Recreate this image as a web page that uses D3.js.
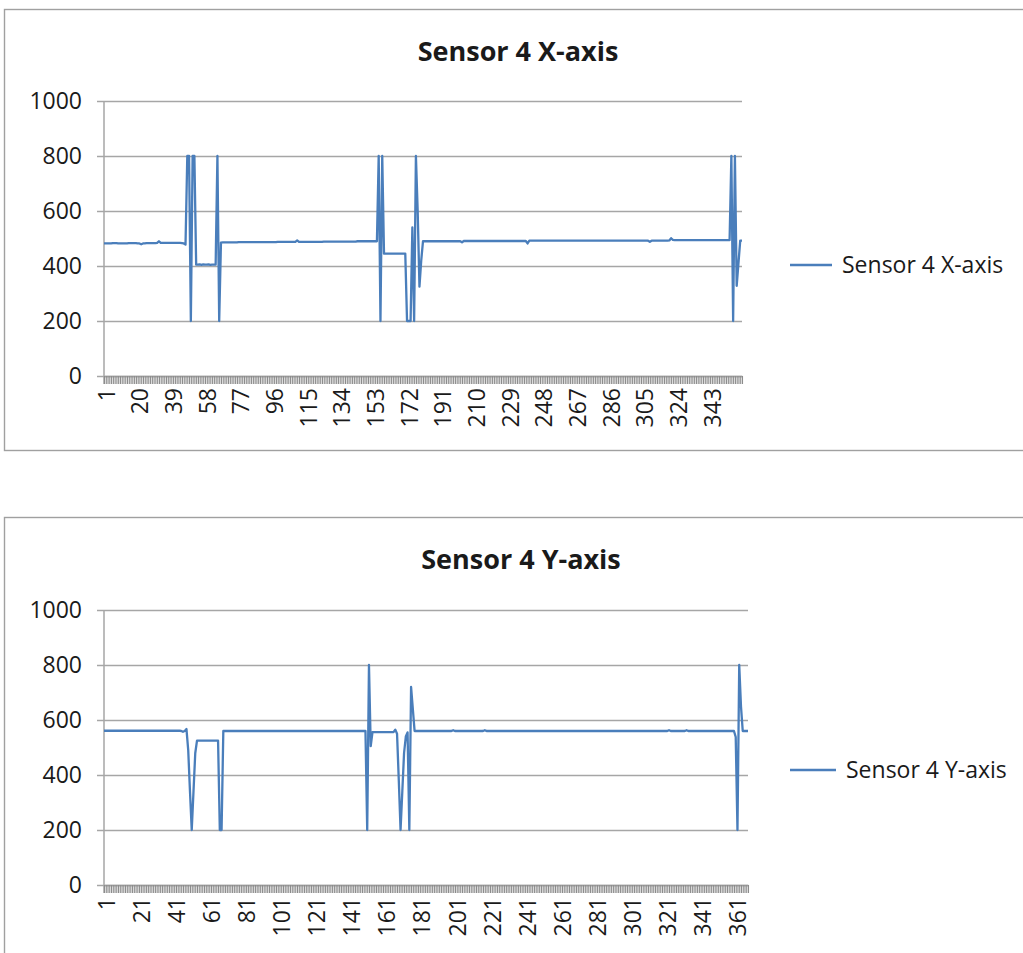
<!DOCTYPE html>
<html>
<head>
<meta charset="utf-8">
<script src="https://cdn.jsdelivr.net/npm/d3@7"></script>
<style>
  body { margin: 0; background: #fff; }
  svg { display: block; }
  text { font-family: "Open Sans", sans-serif; fill: #1a1a1a; }
</style>
</head>
<body>
<svg id="chart" width="1023" height="953"></svg>
<script>
// Sensor 4, X-axis readings (one value per sample)
const sensorXValues = [
  482,482,482,482,482,483,483,483,482,482,482,482,482,482,483,483,483,483,483,482,
  482,479,482,482,483,483,483,483,483,483,484,490,484,484,484,484,484,484,484,484,
  484,484,484,484,483,482,478,800,800,200,800,800,405,405,406,404,406,405,405,406,
  404,405,405,405,800,200,485,486,486,486,486,486,486,486,486,486,487,487,487,487,
  487,487,487,487,487,487,487,487,487,487,487,487,487,487,487,487,487,487,488,488,
  488,488,488,488,488,488,488,488,488,493,488,488,488,488,488,488,488,488,488,488,
  488,488,488,488,489,489,489,489,489,489,489,489,489,489,489,489,489,489,489,489,
  489,489,489,490,490,490,490,490,490,490,490,490,490,490,490,800,200,800,445,445,
  445,445,445,445,445,445,445,445,445,445,445,200,200,200,540,200,800,600,325,420,
  490,490,490,490,490,490,490,490,490,490,490,490,490,490,490,490,490,490,490,490,
  490,490,486,491,491,491,491,491,491,491,491,491,491,491,491,491,491,491,491,491,
  491,491,491,491,491,491,491,491,491,491,491,491,491,491,491,491,491,491,491,482,
  492,492,492,492,492,492,492,492,492,492,492,492,492,492,492,492,492,492,492,492,
  492,492,492,492,492,492,492,492,492,492,492,492,492,492,492,492,492,492,492,492,
  492,492,492,492,492,492,492,492,492,492,492,492,492,492,492,492,492,492,492,492,
  492,492,492,492,492,492,492,492,488,492,492,492,492,492,492,492,492,492,492,493,
  501,495,494,494,494,494,494,494,494,494,494,494,494,494,494,494,494,494,494,494,
  494,494,494,494,494,494,494,494,494,494,494,494,494,494,800,200,800,328,410,492,
  492
];

// Sensor 4, Y-axis readings (one value per sample)
const sensorYValues = [
  561,561,561,561,561,561,561,561,561,561,561,561,561,561,561,561,561,561,561,561,
  561,561,561,561,561,561,561,561,561,561,561,561,561,561,561,561,561,561,561,561,
  561,561,561,561,560,557,560,567,490,340,200,340,479,525,525,525,525,525,525,525,
  525,525,525,525,525,525,200,200,560,560,560,560,560,560,560,560,560,560,560,560,
  560,560,560,560,560,560,560,560,560,560,560,560,560,560,560,560,560,560,560,560,
  560,560,560,560,560,560,560,560,560,560,560,560,560,560,560,560,560,560,560,560,
  560,560,560,560,560,560,560,560,560,560,560,560,560,560,560,560,560,560,560,560,
  560,560,560,560,560,560,560,560,560,560,200,800,505,556,556,556,556,556,556,556,
  556,556,556,556,556,556,565,550,380,200,340,480,540,555,200,720,640,560,560,560,
  560,560,560,560,560,560,560,560,560,560,560,560,560,560,560,560,560,560,560,563,
  560,560,560,560,560,560,560,560,560,560,560,560,560,560,560,560,560,563,560,560,
  560,560,560,560,560,560,560,560,560,560,560,560,560,560,560,560,560,560,560,560,
  560,560,560,560,560,560,560,560,560,560,560,560,560,560,560,560,560,560,560,560,
  560,560,560,560,560,560,560,560,560,560,560,560,560,560,560,560,560,560,560,560,
  560,560,560,560,560,560,560,560,560,560,560,560,560,560,560,560,560,560,560,560,
  560,560,560,560,560,560,560,560,560,560,560,560,560,560,560,560,560,560,560,560,
  560,560,563,560,560,560,560,560,560,560,560,560,563,560,560,560,560,560,560,560,
  560,560,560,560,560,560,560,560,560,560,560,560,560,560,560,560,560,560,560,560,
  538,200,800,650,560,560,560,560
];

// Category labels shown under each horizontal axis
const xLabelsTop = ["1","20","39","58","77","96","115","134","153","172","191",
                    "210","229","248","267","286","305","324","343"];
const xLabelsBottom = ["1","21","41","61","81","101","121","141","161","181","201",
                       "221","241","261","281","301","321","341","361"];

// Value axis ticks shared by both charts
const yTicks = [0, 200, 400, 600, 800, 1000];

const seriesNames = ["Sensor 4 X-axis", "Sensor 4 Y-axis"];

const LINE_COLOR = "#4a7ebb";
const GRID_COLOR = "#a6a6a6";
const FRAME_COLOR = "#a0a0a0";
const LABEL_SIZE = "23px";

const svg = d3.select("#chart");

function drawPanel(cfg) {
  const g = svg.append("g");
  const samples = cfg.values.map((v, i) => i + 1);

  // Chart frame (runs off the page on the right/bottom)
  g.append("rect")
    .attr("x", cfg.frame.x).attr("y", cfg.frame.y)
    .attr("width", cfg.frame.w).attr("height", cfg.frame.h)
    .attr("fill", "none").attr("stroke", FRAME_COLOR).attr("stroke-width", 1.4);

  const x = d3.scalePoint().domain(samples).range([cfg.left, cfg.right]);
  const y = d3.scaleLinear().domain([0, 1000]).range([cfg.bottom, cfg.top]);

  // Horizontal gridlines
  const grid = g.append("g")
    .attr("transform", `translate(${cfg.left},0)`)
    .call(d3.axisRight(y).tickValues(yTicks).tickSize(cfg.right - cfg.left).tickFormat(""));
  grid.select(".domain").remove();
  grid.selectAll(".tick line").attr("stroke", GRID_COLOR).attr("stroke-width", 1.5);

  // Value axis with labels
  const ya = g.append("g")
    .attr("transform", `translate(${cfg.left},0)`)
    .call(d3.axisLeft(y).tickValues(yTicks).tickSize(7).tickPadding(15)
      .tickSizeOuter(0).tickFormat(d3.format("d")));
  ya.select(".domain").attr("stroke", GRID_COLOR).attr("stroke-width", 1.5)
    .attr("d", `M0,${cfg.top}V${cfg.bottom + 8}`);
  ya.selectAll(".tick line").attr("stroke", GRID_COLOR).attr("stroke-width", 1.5);
  ya.selectAll(".tick text").style("font-size", LABEL_SIZE).attr("fill", "#1a1a1a")
    .style("font-family", '"Open Sans", sans-serif');

  // Category axis: one tick per sample
  const xa = g.append("g")
    .attr("transform", `translate(0,${cfg.bottom})`)
    .call(d3.axisBottom(x).tickValues(samples).tickSize(8).tickSizeOuter(0).tickFormat(""));
  xa.select(".domain").attr("stroke", GRID_COLOR).attr("stroke-width", 1.5);
  xa.selectAll(".tick line").attr("stroke", "#8c8c8c").attr("stroke-width", 1.1);

  // Rotated category labels
  const labelCats = cfg.labels.map(Number);
  const xl = g.append("g")
    .attr("transform", `translate(0,${cfg.bottom})`)
    .call(d3.axisBottom(x).tickValues(labelCats).tickSize(0).tickFormat(d => String(d)));
  xl.select(".domain").remove();
  xl.selectAll(".tick text")
    .attr("transform", "rotate(-90)")
    .attr("x", -12).attr("y", 2).attr("dy", "0.35em")
    .style("text-anchor", "end").style("font-size", LABEL_SIZE)
    .style("font-family", '"Open Sans", sans-serif').attr("fill", "#1a1a1a");

  // Data line
  const line = d3.line().x((d, i) => x(samples[i])).y(d => y(d));
  g.append("path")
    .datum(cfg.values)
    .attr("d", line)
    .attr("fill", "none")
    .attr("stroke", LINE_COLOR)
    .attr("stroke-width", 2.3)
    .attr("stroke-linejoin", "round");

  // Title
  g.append("text")
    .attr("x", cfg.titleX).attr("y", cfg.titleY)
    .attr("text-anchor", "middle")
    .style("font-size", "27px").style("font-weight", "bold")
    .text(cfg.name);

  // Legend
  g.append("line")
    .attr("x1", cfg.legend.x).attr("x2", cfg.legend.x + cfg.legend.len)
    .attr("y1", cfg.legend.y).attr("y2", cfg.legend.y)
    .attr("stroke", LINE_COLOR).attr("stroke-width", 2.3);
  g.append("text")
    .attr("x", cfg.legend.x + cfg.legend.len + 10).attr("y", cfg.legend.y)
    .attr("dy", "0.35em")
    .style("font-size", LABEL_SIZE)
    .text(cfg.name);
}

drawPanel({
  name: seriesNames[0],
  values: sensorXValues,
  labels: xLabelsTop,
  frame: { x: 4.5, y: 9.5, w: 1100, h: 441 },
  left: 104, right: 742, top: 101, bottom: 376,
  titleX: 518, titleY: 61,
  legend: { x: 790, y: 265, len: 42 }
});

drawPanel({
  name: seriesNames[1],
  values: sensorYValues,
  labels: xLabelsBottom,
  frame: { x: 4.5, y: 517.5, w: 1100, h: 500 },
  left: 104, right: 748, top: 610, bottom: 885,
  titleX: 521, titleY: 569,
  legend: { x: 790, y: 770, len: 46 }
});
</script>
</body>
</html>
